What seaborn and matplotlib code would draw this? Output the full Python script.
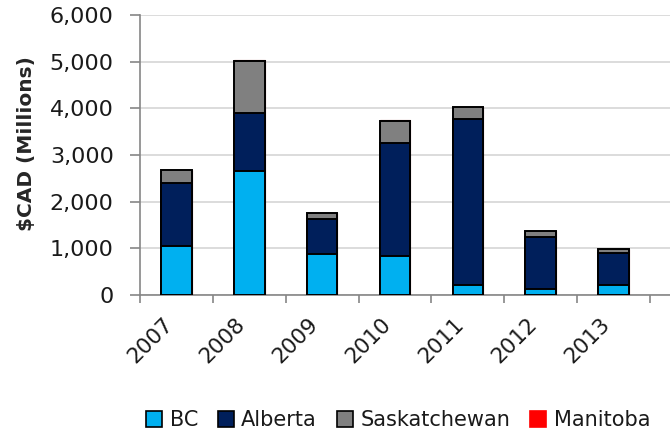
import numpy as np
import pandas as pd
import matplotlib
matplotlib.use('Agg')
import matplotlib.pyplot as plt
import seaborn as sns
from matplotlib.patches import Patch
from matplotlib.ticker import FuncFormatter, FixedLocator

years = ['2007', '2008', '2009', '2010', '2011', '2012', '2013']
bc = [1040, 2665, 880, 835, 215, 120, 215]
alberta = [1365, 1230, 750, 2430, 3550, 1130, 690]
saskatchewan = [265, 1125, 135, 470, 255, 115, 72]
manitoba = [15, 15, 0, 15, 15, 12, 10]

provinces = ['BC', 'Alberta', 'Saskatchewan', 'Manitoba']
colors = {'BC': '#00B0F0', 'Alberta': '#001F5B', 'Saskatchewan': '#808080', 'Manitoba': '#FF0000'}

df = pd.DataFrame({'Year': years, 'BC': bc, 'Alberta': alberta,
                   'Saskatchewan': saskatchewan, 'Manitoba': manitoba})
# cumulative heights so the stack can be drawn back to front
cum = df[provinces].cumsum(axis=1)

sns.set_style('white')
plt.rcParams['font.family'] = ['DejaVu Sans']
plt.rcParams['text.color'] = '#1a1a1a'

fig = plt.figure(figsize=(6.7, 4.34), dpi=100)
ax = fig.add_axes([0.209, 0.3203, 0.791, 0.6451])

for p in reversed(provinces):
    if p == 'Manitoba':
        sns.barplot(x=df['Year'], y=cum[p], color=colors[p], width=0.42,
                    edgecolor='#7a0000', linewidth=0.8, saturation=1, ax=ax, zorder=3)
    else:
        sns.barplot(x=df['Year'], y=cum[p], color=colors[p], width=0.42,
                    edgecolor='black', linewidth=1.4, saturation=1, ax=ax, zorder=3)

ax.set_ylim(0, 6000)
ax.set_xlim(-0.5, 6.5 + 20 / 73)
ax.yaxis.set_major_locator(FixedLocator(range(0, 6001, 1000)))
ax.yaxis.set_major_formatter(FuncFormatter(lambda v, pos: f'{int(v):,}'))
ax.grid(axis='y', color='#d9d9d9', linewidth=1.3, zorder=0)
ax.set_axisbelow(True)

for s in ['top', 'right']:
    ax.spines[s].set_visible(False)
for s in ['left', 'bottom']:
    ax.spines[s].set_color('#868686')
    ax.spines[s].set_linewidth(1.2)

ax.set_xlabel('')
ax.set_ylabel('$CAD (Millions)', fontsize=14.5, fontweight='bold')
ax.yaxis.set_label_coords(-0.196, 0.54)
ax.tick_params(axis='y', direction='out', length=7, color='#868686', width=1.2,
               labelsize=16, pad=12, left=True, labelcolor='#1a1a1a')
ax.set_xticks(range(len(years)))
ax.set_xticklabels(years, rotation=45, ha='right')
ax.tick_params(axis='x', which='major', length=0, labelsize=15.5, pad=14, labelcolor='#1a1a1a')
ax.set_xticks(np.arange(-0.5, 7, 1), minor=True)
ax.tick_params(axis='x', which='minor', direction='out', length=6, color='#868686',
               width=1.2, bottom=True)

handles = [Patch(facecolor=colors[p], edgecolor='black' if p != 'Manitoba' else colors[p],
                 linewidth=1.2, label=p) for p in provinces]
fig.legend(handles=handles, loc='center left', bbox_to_anchor=(146 / 670, 0.032), ncol=4,
           frameon=False, fontsize=15, handlelength=0.77, handleheight=0.77,
           handletextpad=0.36, columnspacing=0.95, borderaxespad=0, borderpad=0)

fig.savefig('out.png', dpi=100)
